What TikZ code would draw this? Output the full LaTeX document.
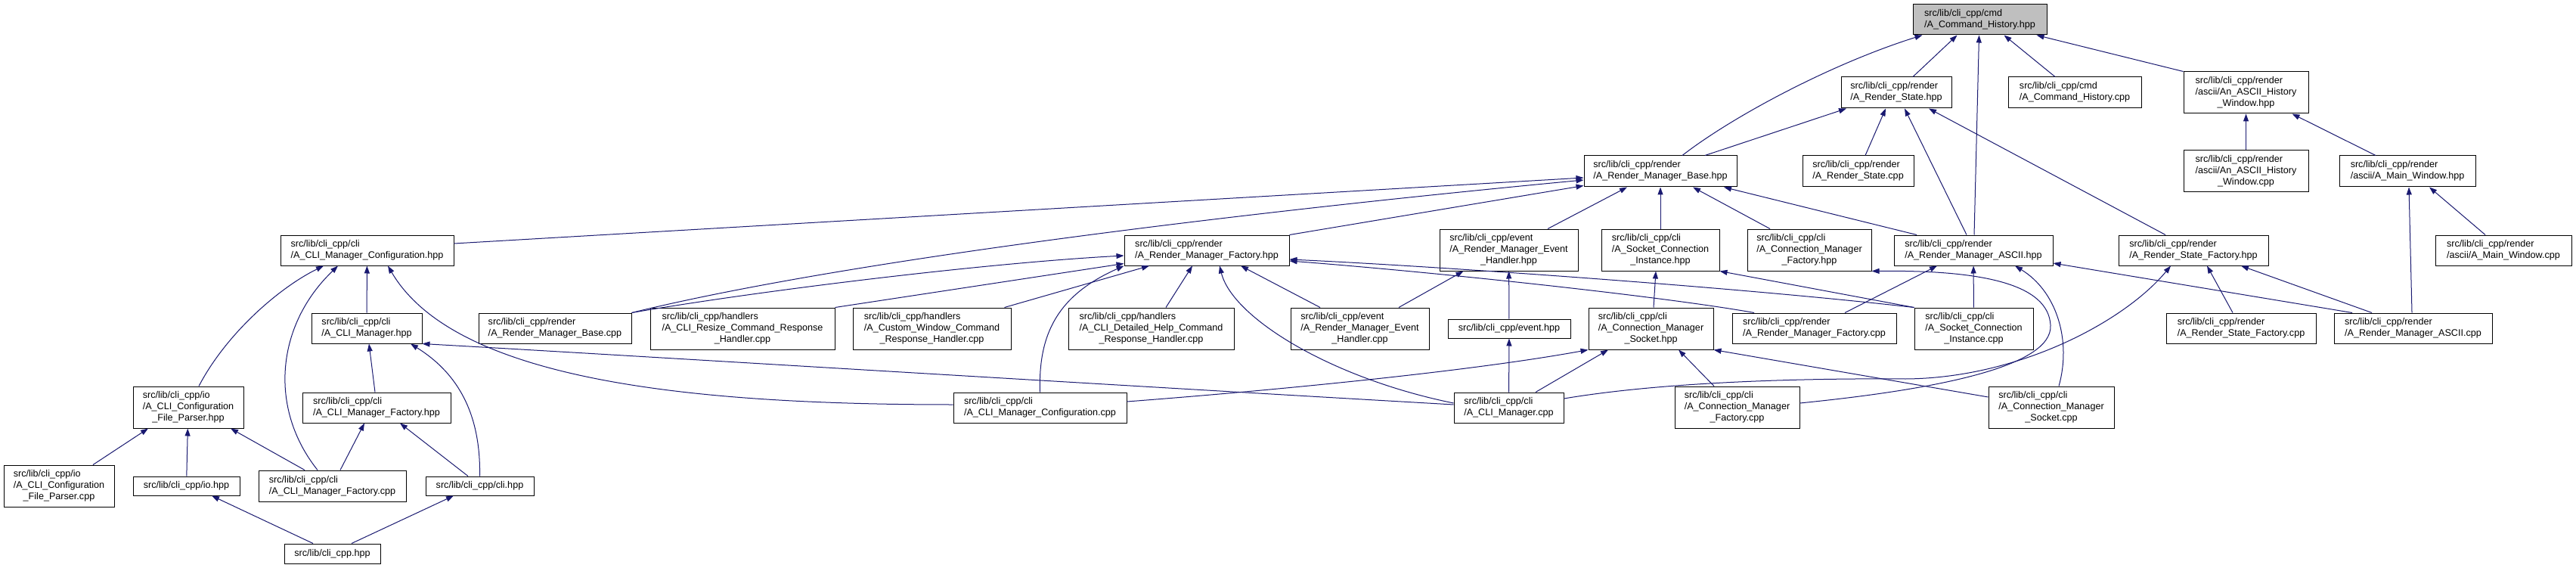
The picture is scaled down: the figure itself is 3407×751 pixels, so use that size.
\documentclass[tikz,border=0pt]{standalone}
\usepackage{fontspec}
\setmainfont{Liberation Sans}
\usetikzlibrary{arrows.meta}
\definecolor{dxblue}{HTML}{191970}
\definecolor{dxgrey}{HTML}{BFBFBF}
\newcommand\dxfont{\fontsize{12.6}{15}\selectfont}
\newcommand\dxtwo[2]{\begin{tabular}{@{}l@{}}#1\\#2\end{tabular}}
\newcommand\dxthree[3]{\begin{tabular}{@{}l@{}}#1\\#2\\\multicolumn{1}{@{}c@{}}{#3}\end{tabular}}
\tikzset{
  box/.style={draw=black, line width=1pt, inner sep=0pt, fill=white, font=\dxfont},
  rootbox/.style={box, fill=dxgrey},
  edge/.style={draw=dxblue, line width=1pt, -{Triangle[length=10pt,width=7pt]}, fill=none}
}
\begin{document}
\begin{tikzpicture}[x=1pt,y=-1pt]
\fill[white] (0,0) rectangle (3407,751);
\useasboundingbox (0,0) rectangle (3407,751);
% rank 0
\node[rootbox, minimum width=177pt, minimum height=40pt] (ch) at (2618.5,26) {\dxtwo{src/lib/cli\_cpp/cmd}{/A\_Command\_History.hpp}};
% rank 1
\node[box, minimum width=176pt, minimum height=41pt] (chcpp) at (2744,122.5) {\dxtwo{src/lib/cli\_cpp/cmd}{/A\_Command\_History.cpp}};
\node[box, minimum width=165pt, minimum height=55pt] (ahwh) at (2970.5,122.5) {\dxthree{src/lib/cli\_cpp/render}{/ascii/An\_ASCII\_History}{\_Window.hpp}};
\node[box, minimum width=146pt, minimum height=41pt] (rsh) at (2508,122.5) {\dxtwo{src/lib/cli\_cpp/render}{/A\_Render\_State.hpp}};
% rank 2
\node[box, minimum width=165pt, minimum height=55pt] (ahwc) at (2970.5,226.5) {\dxthree{src/lib/cli\_cpp/render}{/ascii/An\_ASCII\_History}{\_Window.cpp}};
\node[box, minimum width=180pt, minimum height=41pt] (amwh) at (3184,226.5) {\dxtwo{src/lib/cli\_cpp/render}{/ascii/A\_Main\_Window.hpp}};
\node[box, minimum width=202pt, minimum height=41pt] (rmbh) at (2196,226.5) {\dxtwo{src/lib/cli\_cpp/render}{/A\_Render\_Manager\_Base.hpp}};
\node[box, minimum width=147pt, minimum height=41pt] (rscpp) at (2457.5,226.5) {\dxtwo{src/lib/cli\_cpp/render}{/A\_Render\_State.cpp}};
% rank 3
\node[box, minimum width=180pt, minimum height=40pt] (amwc) at (3311,331) {\dxtwo{src/lib/cli\_cpp/render}{/ascii/A\_Main\_Window.cpp}};
\node[box, minimum width=198pt, minimum height=40pt] (rsfh) at (2901,331) {\dxtwo{src/lib/cli\_cpp/render}{/A\_Render\_State\_Factory.hpp}};
\node[box, minimum width=210pt, minimum height=40pt] (rmah) at (2610,331) {\dxtwo{src/lib/cli\_cpp/render}{/A\_Render\_Manager\_ASCII.hpp}};
\node[box, minimum width=183pt, minimum height=55pt] (rmehh) at (1995.5,330.5) {\dxthree{src/lib/cli\_cpp/event}{/A\_Render\_Manager\_Event}{\_Handler.hpp}};
\node[box, minimum width=156pt, minimum height=55pt] (scih) at (2196,330.5) {\dxthree{src/lib/cli\_cpp/cli}{/A\_Socket\_Connection}{\_Instance.hpp}};
\node[box, minimum width=164pt, minimum height=55pt] (cmfh) at (2393,330.5) {\dxthree{src/lib/cli\_cpp/cli}{/A\_Connection\_Manager}{\_Factory.hpp}};
\node[box, minimum width=218pt, minimum height=40pt] (rmfh) at (1596,331) {\dxtwo{src/lib/cli\_cpp/render}{/A\_Render\_Manager\_Factory.hpp}};
\node[box, minimum width=229pt, minimum height=40pt] (cmch) at (485.5,331) {\dxtwo{src/lib/cli\_cpp/cli}{/A\_CLI\_Manager\_Configuration.hpp}};
% rank 4
\node[box, minimum width=146pt, minimum height=40pt] (climh) at (485,434) {\dxtwo{src/lib/cli\_cpp/cli}{/A\_CLI\_Manager.hpp}};
\node[box, minimum width=202pt, minimum height=40pt] (rmbc) at (734,434) {\dxtwo{src/lib/cli\_cpp/render}{/A\_Render\_Manager\_Base.cpp}};
\node[box, minimum width=244pt, minimum height=55pt] (resize) at (982,434.5) {\dxthree{src/lib/cli\_cpp/handlers}{/A\_CLI\_Resize\_Command\_Response}{\_Handler.cpp}};
\node[box, minimum width=209pt, minimum height=55pt] (custom) at (1232.5,434.5) {\dxthree{src/lib/cli\_cpp/handlers}{/A\_Custom\_Window\_Command}{\_Response\_Handler.cpp}};
\node[box, minimum width=219pt, minimum height=55pt] (detailed) at (1522.5,434.5) {\dxthree{src/lib/cli\_cpp/handlers}{/A\_CLI\_Detailed\_Help\_Command}{\_Response\_Handler.cpp}};
\node[box, minimum width=183pt, minimum height=55pt] (rmehc) at (1798.5,434.5) {\dxthree{src/lib/cli\_cpp/event}{/A\_Render\_Manager\_Event}{\_Handler.cpp}};
\node[box, minimum width=162pt, minimum height=25pt] (eventh) at (1996,434.5) {src/lib/cli\_cpp/event.hpp};
\node[box, minimum width=165pt, minimum height=55pt] (cmsh) at (2183.5,434.5) {\dxthree{src/lib/cli\_cpp/cli}{/A\_Connection\_Manager}{\_Socket.hpp}};
\node[box, minimum width=217pt, minimum height=40pt] (rmfc) at (2399.5,434) {\dxtwo{src/lib/cli\_cpp/render}{/A\_Render\_Manager\_Factory.cpp}};
\node[box, minimum width=157pt, minimum height=55pt] (scic) at (2610.5,434.5) {\dxthree{src/lib/cli\_cpp/cli}{/A\_Socket\_Connection}{\_Instance.cpp}};
\node[box, minimum width=198pt, minimum height=40pt] (rsfc) at (2964,434) {\dxtwo{src/lib/cli\_cpp/render}{/A\_Render\_State\_Factory.cpp}};
\node[box, minimum width=209pt, minimum height=40pt] (rmac) at (3191.5,434) {\dxtwo{src/lib/cli\_cpp/render}{/A\_Render\_Manager\_ASCII.cpp}};
% rank 5
\node[box, minimum width=146pt, minimum height=55pt] (cfph) at (249,538.5) {\dxthree{src/lib/cli\_cpp/io}{/A\_CLI\_Configuration}{\_File\_Parser.hpp}};
\node[box, minimum width=196pt, minimum height=40pt] (climfh) at (498,539) {\dxtwo{src/lib/cli\_cpp/cli}{/A\_CLI\_Manager\_Factory.hpp}};
\node[box, minimum width=229pt, minimum height=40pt] (cmcc) at (1375.5,539) {\dxtwo{src/lib/cli\_cpp/cli}{/A\_CLI\_Manager\_Configuration.cpp}};
\node[box, minimum width=145pt, minimum height=40pt] (climc) at (1995.5,539) {\dxtwo{src/lib/cli\_cpp/cli}{/A\_CLI\_Manager.cpp}};
\node[box, minimum width=165pt, minimum height=55pt] (cmfc) at (2297.5,538.5) {\dxthree{src/lib/cli\_cpp/cli}{/A\_Connection\_Manager}{\_Factory.cpp}};
\node[box, minimum width=166pt, minimum height=55pt] (cmsc) at (2713,538.5) {\dxthree{src/lib/cli\_cpp/cli}{/A\_Connection\_Manager}{\_Socket.cpp}};
% rank 6
\node[box, minimum width=146pt, minimum height=55pt] (cfpc) at (78,642.5) {\dxthree{src/lib/cli\_cpp/io}{/A\_CLI\_Configuration}{\_File\_Parser.cpp}};
\node[box, minimum width=141pt, minimum height=25pt] (ioh) at (246.5,642.5) {src/lib/cli\_cpp/io.hpp};
\node[box, minimum width=195pt, minimum height=41pt] (climfc) at (439.5,642.5) {\dxtwo{src/lib/cli\_cpp/cli}{/A\_CLI\_Manager\_Factory.cpp}};
\node[box, minimum width=143pt, minimum height=25pt] (clih) at (634.5,642.5) {src/lib/cli\_cpp/cli.hpp};
% rank 7
\node[box, minimum width=127pt, minimum height=26pt] (clicpph) at (439.5,732) {src/lib/cli\_cpp.hpp};

% ---- edges into A_Command_History.hpp
\draw[edge] ([xshift=29pt]rmbh.north) .. controls (2290,155) and (2420,85) .. ([xshift=-76pt]ch.south);
\draw[edge] ([xshift=22pt]rsh.north) -- ([xshift=-30pt]ch.south);
\draw[edge] ([xshift=1pt]rmah.north) -- ([xshift=-1pt]ch.south);
\draw[edge] ([xshift=-26pt]chcpp.north) -- ([xshift=32pt]ch.south);
\draw[edge] (ahwh.north west) -- ([xshift=75pt]ch.south);
% ---- into A_Render_State.hpp
\draw[edge] ([xshift=59pt]rmbh.north) -- ([xshift=-66pt]rsh.south);
\draw[edge] ([xshift=9.5pt]rscpp.north) -- ([xshift=-14pt]rsh.south);
\draw[edge] ([xshift=-9pt]rmah.north) -- ([xshift=11pt]rsh.south);
\draw[edge] ([xshift=-37pt]rsfh.north) -- ([xshift=43pt]rsh.south);
% ---- ascii windows
\draw[edge] (ahwc) -- (ahwh);
\draw[edge] ([xshift=-42pt]amwh.north) -- ([xshift=61pt]ahwh.south);
\draw[edge] ([xshift=-24pt]amwc.north) -- ([xshift=29pt]amwh.south);
\draw[edge] ([xshift=-1.5pt]rmac.north) -- ([xshift=2pt]amwh.south);
% ---- into A_Render_Manager_Base.hpp
\draw[edge] ([yshift=9pt]cmch.east) -- ([yshift=-8.5pt]rmbh.west);
\draw[edge] (rmbc.north east) .. controls (1135,340) and (1693,276) .. ([yshift=-11.5pt]rmbh.west);
\draw[edge] (rmfh.north east) -- ([yshift=2pt]rmbh.south west);
\draw[edge] ([xshift=51.5pt]rmehh.north) -- ([xshift=-44pt]rmbh.south);
\draw[edge] (scih) -- (rmbh);
\draw[edge] ([xshift=-52pt]cmfh.north) -- ([xshift=43pt]rmbh.south);
\draw[edge] ([xshift=-75pt]rmah.north) -- ([xshift=84pt]rmbh.south);
% ---- into A_Render_Manager_Factory.hpp
\draw[edge] (rmbc.north east) .. controls (1000,385) and (1300,348) .. ([yshift=-7pt]rmfh.west);
\draw[edge] (resize.north east) -- ([yshift=3pt]rmfh.south west);
\draw[edge] (cmcc.north) .. controls (1373,440) and (1400,390) .. (rmfh.south west);
\draw[edge] ([xshift=-9pt]custom.north east) -- ([xshift=-76pt]rmfh.south);
\draw[edge] ([xshift=19.5pt]detailed.north) -- ([xshift=-19pt]rmfh.south);
\draw[edge] ([yshift=6pt]climc.west) .. controls (1760,500) and (1630,420) .. ([xshift=17pt]rmfh.south);
\draw[edge] ([xshift=-52.5pt]rmehc.north) -- ([xshift=45pt]rmfh.south);
\draw[edge] (scic.north west) .. controls (2300,380) and (1900,352) .. ([yshift=-12pt]rmfh.east);
\draw[edge] ([xshift=-79.5pt]rmfc.north) .. controls (2200,392) and (1900,360) .. ([yshift=-14pt]rmfh.east);
% ---- event handler / event
\draw[edge] ([xshift=51.5pt]rmehc.north) -- ([xshift=-60pt]rmehh.south);
\draw[edge] (eventh) -- (rmehh);
\draw[edge] (climc) -- (eventh);
% ---- socket connection instance
\draw[edge] ([xshift=3.5pt]cmsh.north) -- ([xshift=-6pt]scih.south);
\draw[edge] (scic.north west) -- (scih.south east);
% ---- connection manager factory
\draw[edge] ([yshift=5.5pt]cmfc.east) .. controls (2560,515) and (2715,485) .. (2712,430) .. controls (2709,375) and (2620,357) .. (cmfh.south east);
% ---- connection manager socket
\draw[edge] ([yshift=8pt]cmcc.east) .. controls (1700,515) and (1950,490) .. (cmsh.south west);
\draw[edge] ([xshift=35.5pt]climc.north) -- ([xshift=-56.5pt]cmsh.south);
\draw[edge] ([xshift=-30.5pt]cmfc.north) -- ([xshift=36.5pt]cmsh.south);
\draw[edge] ([yshift=13.5pt]cmsc.west) -- (cmsh.south east);
% ---- render manager ascii
\draw[edge] ([xshift=40.5pt]rmfc.north) -- ([xshift=-48pt]rmah.south);
\draw[edge] (scic) -- (rmah);
\draw[edge] ([xshift=10pt]cmsc.north) .. controls (2740,450) and (2720,385) .. ([xshift=55pt]rmah.south);
\draw[edge] ([xshift=-80.5pt]rmac.north) -- ([yshift=-17pt]rmah.east);
% ---- render state factory
\draw[edge] ([yshift=12pt]climc.east) .. controls (2200,505) and (2380,500) .. (2520,501) .. controls (2670,500) and (2810,425) .. ([xshift=-30pt]rsfh.south);
\draw[edge] ([xshift=-11pt]rsfc.north) -- ([xshift=18pt]rsfh.south);
\draw[edge] ([xshift=-54.5pt]rmac.north) -- ([xshift=63pt]rsfh.south);
% ---- CLI manager configuration
\draw[edge] ([xshift=14pt]cfph.north) .. controls (300,440) and (370,380) .. ([xshift=-57.5pt]cmch.south);
\draw[edge] ([xshift=-19.5pt]climfc.north) .. controls (355,540) and (365,430) .. ([xshift=-38.5pt]cmch.south);
\draw[edge] (climh) -- (cmch);
\draw[edge] ([yshift=4pt]cmcc.west) .. controls (900,535) and (600,500) .. ([xshift=27.5pt]cmch.south);
% ---- CLI manager
\draw[edge] ([xshift=-2pt]climfh.north) -- ([xshift=3pt]climh.south);
\draw[edge] (clih.north) .. controls (636,540) and (600,490) .. ([xshift=58pt]climh.south);
\draw[edge] ([yshift=4pt]climc.west) .. controls (1400,505) and (800,468) .. (climh.south east);
% ---- CLI manager factory
\draw[edge] ([xshift=10.5pt]climfc.north) -- ([xshift=-16pt]climfh.south);
\draw[edge] ([xshift=-15.5pt]clih.north) -- ([xshift=31pt]climfh.south);
% ---- configuration file parser
\draw[edge] ([xshift=45pt]cfpc.north) -- ([xshift=-53pt]cfph.south);
\draw[edge] (ioh) -- (cfph);
\draw[edge] ([xshift=-36.5pt]climfc.north) -- ([xshift=56pt]cfph.south);
% ---- cli_cpp.hpp
\draw[edge] ([xshift=-25.5pt]clicpph.north) -- ([xshift=33.5pt]ioh.south);
\draw[edge] ([xshift=25.5pt]clicpph.north) -- ([xshift=-34.5pt]clih.south);
\end{tikzpicture}
\end{document}
